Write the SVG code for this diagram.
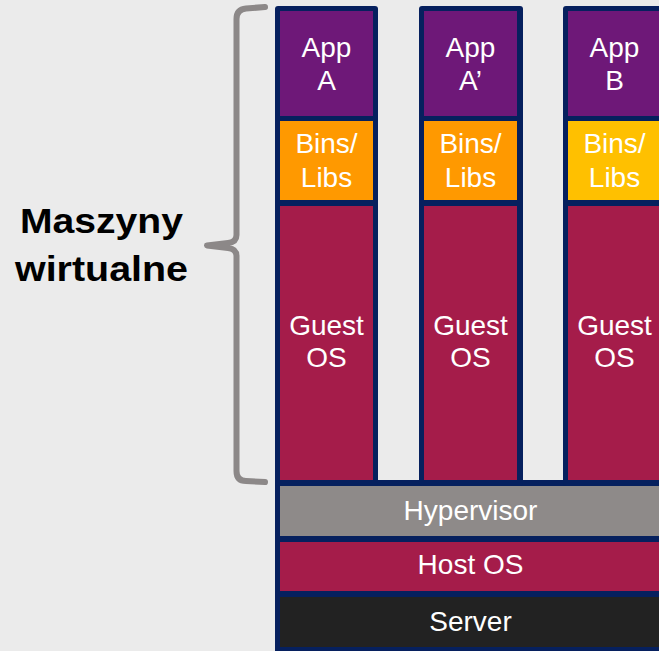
<svg xmlns="http://www.w3.org/2000/svg" width="659" height="651" viewBox="0 0 659 651">
<style>
.t{font-family:"Liberation Sans",Arial,sans-serif;font-size:28px;fill:#ffffff;text-anchor:middle}
.lbl{font-family:"Liberation Sans",Arial,sans-serif;font-size:35px;font-weight:bold;fill:#000000;text-anchor:middle}
.navy{fill:#06205e}
.app{fill:#6e1878}
.binsO{fill:#ff9900}
.binsY{fill:#ffc000}
.os{fill:#a51c4a}
.hyp{fill:#8e8a89}
.srv{fill:#222222}
</style>
<rect width="659" height="651" fill="#ebebeb"/>
<g id="connectors">
<path d="M265,7 L246,8.5 Q236.5,9.5 236.5,19 L236.5,235 Q236.5,242 228,243 L207,245.5 L228,248 Q236.5,249 236.5,256 L236.5,471 Q236.5,481 246,481 L265,482" fill="none" stroke="#8c8888" stroke-width="6" stroke-linecap="round" stroke-linejoin="round"/>
</g>
<g id="label">
<text class="lbl" x="101.5" y="233" textLength="163" lengthAdjust="spacingAndGlyphs">Maszyny</text>
<text class="lbl" x="101.5" y="281" textLength="173" lengthAdjust="spacingAndGlyphs">wirtualne</text>
</g>
<g id="base">
<rect class="navy" x="275" y="480" width="400" height="180" rx="3"/>
<g id="hypervisor"><rect class="hyp" x="280" y="486" width="390" height="50"/><text class="t" x="470.5" y="520">Hypervisor</text></g>
<g id="hostos"><rect class="os" x="280" y="542" width="390" height="49"/><text class="t" x="470.5" y="574">Host OS</text></g>
<g id="server"><rect class="srv" x="280" y="597" width="390" height="50"/><text class="t" x="470.5" y="631">Server</text></g>
</g>
<g id="vm1">
<rect class="navy" x="275" y="6" width="103" height="480" rx="3"/>
<rect class="app" x="280" y="11" width="93" height="105"/>
<text class="t" x="326.5" y="57">App</text><text class="t" x="326.5" y="90">A</text>
<rect class="binsO" x="280" y="121" width="93" height="79"/>
<text class="t" x="326.5" y="153">Bins/</text><text class="t" x="326.5" y="187">Libs</text>
<rect class="os" x="280" y="206" width="93" height="274"/>
<text class="t" x="326.5" y="335">Guest</text><text class="t" x="326.5" y="367">OS</text>
</g>
<g id="vm2">
<rect class="navy" x="419" y="6" width="104" height="480" rx="3"/>
<rect class="app" x="424" y="11" width="93" height="105"/>
<text class="t" x="470.5" y="57">App</text><text class="t" x="470.5" y="90">A’</text>
<rect class="binsO" x="424" y="121" width="93" height="79"/>
<text class="t" x="470.5" y="153">Bins/</text><text class="t" x="470.5" y="187">Libs</text>
<rect class="os" x="424" y="206" width="93" height="274"/>
<text class="t" x="470.5" y="335">Guest</text><text class="t" x="470.5" y="367">OS</text>
</g>
<g id="vm3">
<rect class="navy" x="563" y="6" width="104" height="480" rx="3"/>
<rect class="app" x="568" y="11" width="93" height="105"/>
<text class="t" x="614.5" y="57">App</text><text class="t" x="614.5" y="90">B</text>
<rect class="binsY" x="568" y="121" width="93" height="79"/>
<text class="t" x="614.5" y="153">Bins/</text><text class="t" x="614.5" y="187">Libs</text>
<rect class="os" x="568" y="206" width="93" height="274"/>
<text class="t" x="614.5" y="335">Guest</text><text class="t" x="614.5" y="367">OS</text>
</g>
</svg>
